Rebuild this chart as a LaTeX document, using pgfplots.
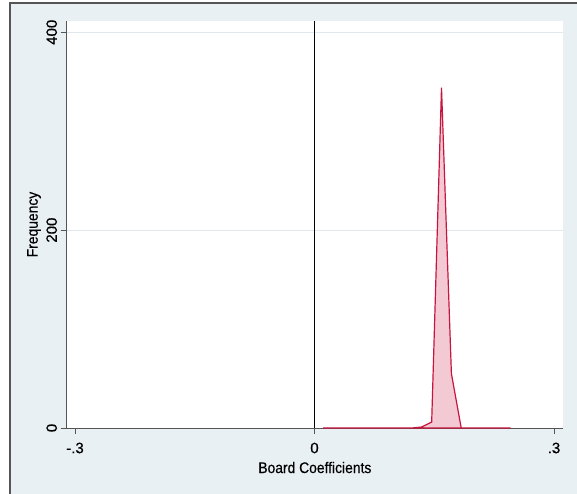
\documentclass[border=0pt]{standalone}
\usepackage{pgfplots}
\pgfplotsset{compat=1.18}
\usepackage{fontspec}
\setmainfont[FakeStretch=0.9,FakeBold=0.4]{Liberation Sans}
\newfontfamily\tickfont[FakeBold=0.4]{Liberation Sans}
\definecolor{bgc}{RGB}{232,240,243}
\definecolor{gridc}{RGB}{222,232,238}
\definecolor{axc}{RGB}{85,85,85}
\definecolor{linec}{RGB}{200,20,62}
\definecolor{fillc}{RGB}{243,201,211}
\begin{document}
\begin{tikzpicture}
\useasboundingbox (0,0) rectangle (577bp,494bp);
\fill[bgc] (10bp,0) rectangle (577bp,491bp);
\draw[axc,line width=1.6bp] (10bp,0) -- (10bp,491bp) -- (577bp,491bp);
\begin{axis}[
  at={(66.7bp,66bp)}, anchor=south west,
  scale only axis, width=496.3bp, height=407bp,
  xmin=-0.3104, xmax=0.3113, ymin=0, ymax=411.4,
  axis x line*=bottom, axis y line*=left,
  axis line style={axc, line width=0.9bp},
  axis background/.style={fill=white},
  xtick={-0.3,0,0.3}, xticklabels={-.3,0,.3},
  ytick={0,200,400}, yticklabels={0,200,400},
  tick align=outside, major tick length=6bp,
  tick style={axc, line width=0.9bp},
  ymajorgrids, grid style={gridc, line width=0.9bp},
  font=\fontsize{15.4bp}{17bp}\selectfont,
  ticklabel style={font=\tickfont\fontsize{15bp}{17bp}\selectfont},
  xticklabel style={anchor=center, yshift=-14bp},
  yticklabel style={rotate=90, anchor=center, yshift=9bp},
  xlabel={Board Coefficients}, ylabel={Frequency},
  label style={font=\fontsize{15.4bp}{17bp}\selectfont},
  xlabel style={at={(axis description cs:0.5,-0.0971)}, anchor=center},
  ylabel style={at={(axis description cs:-0.0659,0.5)}, anchor=center},
  clip=false,
]
\addplot[black, line width=1.1bp] coordinates {(0,0) (0,411.4)};
\addplot[draw=linec, fill=fillc, line width=1.2bp] coordinates {
(0.0109,0) (0.0233,0) (0.0356,0) (0.0480,0) (0.0603,0) (0.0727,0)
(0.0850,0) (0.0974,0) (0.1097,0) (0.1221,0) (0.1344,1) (0.1468,6)
(0.1591,344) (0.1715,55) (0.1838,0) (0.1962,0) (0.2085,0) (0.2209,0)
(0.2332,0) (0.2456,0)} \closedcycle;
\end{axis}
\end{tikzpicture}
\end{document}
